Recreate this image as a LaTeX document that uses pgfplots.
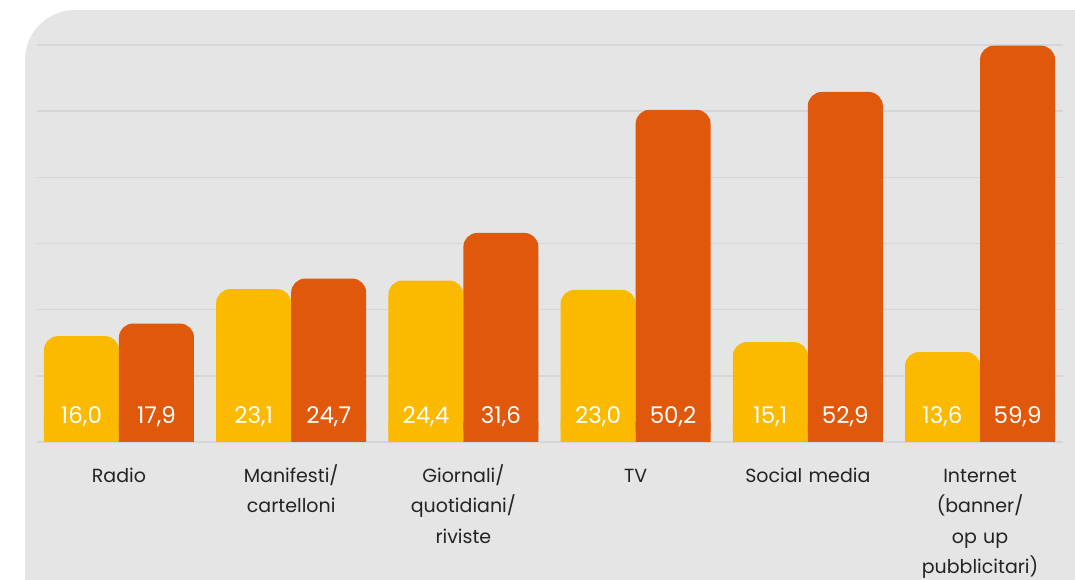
\documentclass[border=0pt]{standalone}
\usepackage{pgfplots}
\pgfplotsset{compat=1.18}
\usepackage{pgfplotstable}
\usepackage{fontspec}
\setmainfont{Poppins}
\definecolor{bg}{RGB}{229,229,229}
\definecolor{gridc}{RGB}{214,214,214}
\definecolor{yel}{RGB}{251,185,0}
\definecolor{ora}{RGB}{224,88,11}
\definecolor{txt}{RGB}{35,35,35}

\pgfplotstableread{
x v
0 16.0
1 23.1
2 24.4
3 23.0
4 15.1
5 13.6
}\yellowdata
\pgfplotstableread{
x v
0 17.9
1 24.7
2 31.6
3 50.2
4 52.9
5 59.9
}\orangedata

\begin{document}
\begin{tikzpicture}[x=1pt,y=1pt]
\useasboundingbox (0,0) rectangle (1075,580);
\clip (0,0) rectangle (1075,580);
\fill[bg, rounded corners=50pt] (25,-80) -- (25,570) -- (1160,570) -- (1160,-80) -- cycle;
\begin{axis}[
 at={(37pt,138pt)}, anchor=south west,
 scale only axis, width=1026pt, height=397pt,
 xmin=-0.476, xmax=5.482, ymin=0, ymax=60,
 axis line style={draw=none}, tick style={draw=none},
 ytick={0,10,...,60}, yticklabels={},
 ymajorgrids, grid style={gridc, line width=1.5pt},
 xtick={0,...,5},
 xticklabels={Radio, {Manifesti/\\cartelloni}, {Giornali/\\quotidiani/\\riviste}, TV, Social media, {Internet\\(banner/\\op up\\pubblicitari)}},
 xticklabel style={align=center, text width=170pt, font=\fontsize{19}{30.5}\selectfont, text=txt, inner sep=0pt, anchor=north, yshift=-22pt, execute at begin node={\vphantom{(/}}},
 bar width=75pt,
 clip=true,
 every node near coord/.style={anchor=base, text=white, font=\fontsize{23}{23}\selectfont, inner sep=0pt},
 nodes near coords={\pgfmathprintnumber[fixed,fixed zerofill,precision=1,use comma,assume math mode=true]{\pgfplotspointmeta}},
]
\addplot[ybar, bar shift=-37.5pt, fill=yel, draw=none, rounded corners=14pt, nodes near coords=] table[x=x,y=v]{\yellowdata};
\addplot[ybar, bar shift=-37.5pt, fill=yel, draw=none, nodes near coords=] table[x=x,y expr={min(\thisrow{v},3)}]{\yellowdata};
\addplot[ybar, bar shift=37.5pt, fill=ora, draw=none, rounded corners=14pt, nodes near coords=] table[x=x,y=v]{\orangedata};
\addplot[ybar, bar shift=37.5pt, fill=ora, draw=none, nodes near coords=] table[x=x,y expr={min(\thisrow{v},3)}]{\orangedata};
\addplot[only marks, mark=none, point meta=explicit] table[x expr=\thisrow{x}-0.2178, y expr=2.73, meta=v]{\yellowdata};
\addplot[only marks, mark=none, point meta=explicit] table[x expr=\thisrow{x}+0.2178, y expr=2.73, meta=v]{\orangedata};
\end{axis}
\end{tikzpicture}
\end{document}
